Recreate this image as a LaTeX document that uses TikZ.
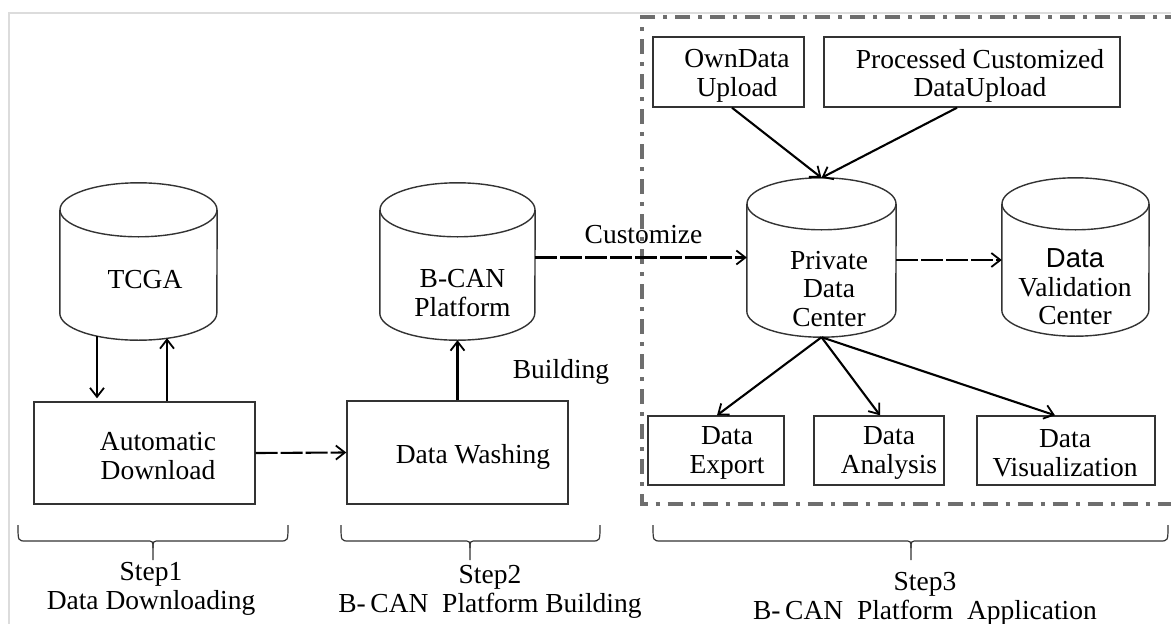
\documentclass[tikz,border=0pt]{standalone}
\usepackage{fontspec}
\setmainfont{Liberation Serif}
\newfontfamily\sansf{Liberation Sans}
\usetikzlibrary{arrows.meta,calc}

\definecolor{boxgray}{HTML}{333333}
\definecolor{framegray}{HTML}{DCDCDC}
\definecolor{dashgray}{HTML}{6E6E6E}

% cylinder outline around a named (invisible) node: #1 name, #2 half width, #3 ellipse half height
\newcommand\drawcyl[3]{%
  \draw[cylline] ($(#1.north)+(0,#3)$) ellipse[x radius=#2, y radius=#3];
  \draw[cylline] ($(#1.north west)+(0,#3)$) -- ($(#1.south west)+(0,-#3)$)
    arc[start angle=180, end angle=0, x radius=#2, y radius=#3]
    -- ($(#1.north east)+(0,#3)$);
}
% horizontal curly brace: #1 left end, #2 right end, #3 tip
\newcommand\stepbrace[3]{%
  \draw[bracestyle] (#1,525) .. controls (#1,541) .. (#1+8,541) -- (#3-7,541)
    .. controls (#3,541) .. (#3,548) -- (#3,560);
  \draw[bracestyle] (#2,525) .. controls (#2,541) .. (#2-8,541) -- (#3+7,541)
    .. controls (#3,541) .. (#3,548);
}

\begin{document}
\begin{tikzpicture}[x=1pt,y=-1pt,
  lbl/.style={font=\fontsize{27.5}{28.5}\selectfont, align=center, inner sep=0pt, text=black},
  box/.style={draw=boxgray, line width=1.4pt, rectangle, inner sep=0pt},
  cylbox/.style={rectangle, draw=none, inner sep=0pt},
  cylline/.style={draw=boxgray, line width=1.4pt},
  arr/.style={line width=2.1pt, -{Straight Barb[length=9pt,width=14pt,line width=1.8pt]}},
  brokenarr/.style={arr, dash pattern=on 22pt off 3pt},
  dashbox/.style={draw=dashgray, line width=4pt, dash pattern=on 15pt off 8pt on 4pt off 8pt},
  bracestyle/.style={draw=boxgray, line width=1.2pt},
]
\useasboundingbox (0,0) rectangle (1171,624);
\fill[white] (0,0) rectangle (1171,624);

% outer light frame
\draw[framegray, line width=2pt] (1171,13) -- (9,13) -- (9,624);

% application area
\draw[dashbox] (1180,17) -- (642,17) -- (642,503.5) -- (1180,503.5);

% databases
\node[cylbox, minimum width=157pt, minimum height=157pt] (tcga) at (138.5,261.5) {};
\drawcyl{tcga}{78.5}{27}
\node[lbl] (tcgaT) at (145,280) {TCGA};

\node[cylbox, minimum width=155pt, minimum height=157pt] (bcan) at (457.5,261.5) {};
\drawcyl{bcan}{77.5}{27}
\node[lbl] (bcanT) at (462.5,293) {B-CAN\\Platform};

\node[cylbox, minimum width=149pt, minimum height=159pt] (private) at (821.5,257.5) {};
\drawcyl{private}{74.5}{26}
\node[lbl] (privateT) at (829,289) {Private\\Data\\Center};

\node[cylbox, minimum width=147pt, minimum height=158pt] (valid) at (1075.5,257) {};
\drawcyl{valid}{73.5}{26}
\node[lbl] (validT) at (1075,287) {{\sansf Data}\\Validation\\Center};

% process boxes
\node[box, minimum width=221pt, minimum height=102pt] (auto) at (144.5,453) {};
\node[lbl] (autoT) at (158,456) {Automatic\\Download};

\node[box, minimum width=221pt, minimum height=103pt] (wash) at (457.5,452.5) {};
\node[lbl] (washT) at (473,457) {Data Washing};

\node[box, minimum width=151pt, minimum height=70pt] (own) at (728.5,72) {};
\node[lbl] (ownT) at (737,76) {OwnData\\Upload};

\node[box, minimum width=296pt, minimum height=70pt] (proc) at (972,72) {};
\node[lbl] (procT) at (980,76) {Processed Customized\\DataUpload};

\node[box, minimum width=136pt, minimum height=69pt] (export) at (716,450.5) {};
\node[lbl] (exportT) at (727,453) {Data\\Export};

\node[box, minimum width=130pt, minimum height=69pt] (analysis) at (879,450.5) {};
\node[lbl] (analysisT) at (889,453) {Data\\Analysis};

\node[box, minimum width=178pt, minimum height=69pt] (visual) at (1066,450.5) {};
\node[lbl] (visualT) at (1065,453) {Data\\Visualization};

% labels
\node[lbl] (building) at (561,372) {Building};
\node[lbl] (customize) at (643.5,235) {Customize};

% connectors
\draw[arr, shorten >=3pt] ([xshift=-41.5pt, yshift=4pt]tcga.south) -- ([xshift=-47.5pt]auto.north);
\draw[arr] ([xshift=22.5pt]auto.north) -- ([xshift=28.5pt, yshift=2pt]tcga.south);
\draw[brokenarr] (auto.east) -- (wash.west);
\draw[arr] (wash.north) -- (bcan.south);
\draw[brokenarr] ([yshift=4pt]bcan.east) -- (private.west);
\draw[brokenarr] ([yshift=-2.5pt]private.east) -- ([yshift=-2.5pt]private.east -| valid.west);
\draw[arr] ([xshift=3.5pt]own.south) -- (private.north);
\draw[arr] ([xshift=-15pt]proc.south) -- (private.north);
\draw[arr] (private.south) -- ([xshift=1pt]export.north);
\draw[arr] (private.south) -- ([xshift=1pt]analysis.north);
\draw[arr] (private.south) -- ([xshift=-11pt]visual.north);

% step braces and captions
\stepbrace{18}{288}{153}
\stepbrace{341}{600}{470}
\stepbrace{653}{1168}{911}
\node[lbl] (step1) at (151,589) {Step1\\Data Downloading};
\node[lbl] (step2) at (490,592) {Step2\\B-\,CAN\ \ Platform Building};
\node[lbl] (step3) at (925,599) {Step3\\B-\,CAN\ \ Platform\ \ Application};
\end{tikzpicture}
\end{document}
